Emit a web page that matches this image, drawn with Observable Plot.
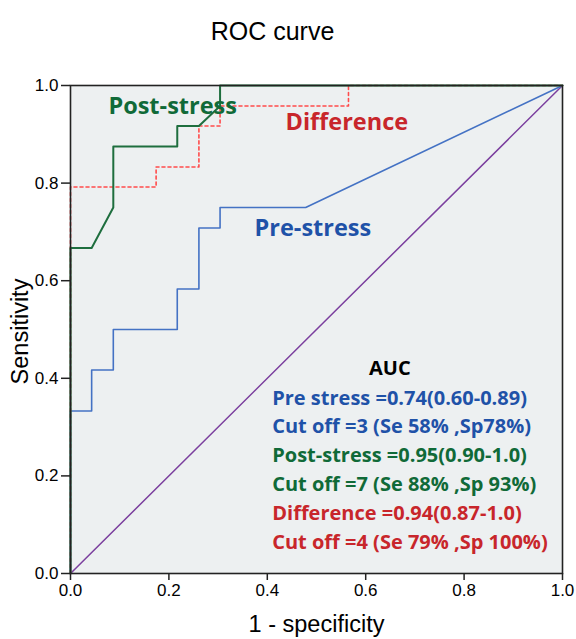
<!DOCTYPE html>
<html>
<head>
<meta charset="utf-8">
<script src="https://cdn.jsdelivr.net/npm/d3@7"></script>
<script src="https://cdn.jsdelivr.net/npm/@observablehq/plot@0.6"></script>
<style>
  body { margin: 0; background: #fff; }
  svg { display: block; }
</style>
</head>
<body>
<div id="chart"></div>
<script>
// --- Data ---
const preX  = [0, 0, 0.043, 0.043, 0.087, 0.087, 0.217, 0.217, 0.261, 0.261, 0.304, 0.304, 0.478, 1.0];
const preY  = [0, 0.333, 0.333, 0.417, 0.417, 0.5, 0.5, 0.583, 0.583, 0.708, 0.708, 0.75, 0.75, 1.0];

const postX = [0, 0, 0.043, 0.087, 0.087, 0.217, 0.217, 0.261, 0.304, 0.304, 1.0];
const postY = [0, 0.667, 0.667, 0.75, 0.875, 0.875, 0.917, 0.917, 0.958, 1.0, 1.0];

const diffX = [0, 0, 0.174, 0.174, 0.261, 0.261, 0.304, 0.304, 0.565, 0.565, 1.0];
const diffY = [0, 0.792, 0.792, 0.833, 0.833, 0.917, 0.917, 0.958, 0.958, 1.0, 1.0];

const refX = [0, 1];
const refY = [0, 1];

const tickValues = [0, 0.2, 0.4, 0.6, 0.8, 1.0];

const aucTitle = "AUC";
const aucLines = [
  "Pre stress =0.74(0.60-0.89)",
  "Cut off =3 (Se 58% ,Sp78%)",
  "Post-stress =0.95(0.90-1.0)",
  "Cut off =7 (Se 88% ,Sp 93%)",
  "Difference =0.94(0.87-1.0)",
  "Cut off =4 (Se 79% ,Sp 100%)"
];
const aucGroups = ["pre", "pre", "post", "post", "diff", "diff"];

const colors = {
  preLine: "#4472C4", preText: "#1F52A8",
  postLine: "#1E6E3E", postText: "#106A38",
  diffLine: "#FF4B4B", diffText: "#C8262B",
  ref: "#7B3F9E"
};
const textColor = {pre: colors.preText, post: colors.postText, diff: colors.diffText};

const toPts = (xs, ys) => xs.map((x, i) => ({x, y: ys[i]}));
const pre = toPts(preX, preY);
const post = toPts(postX, postY);
const diff = toPts(diffX, diffY);
const ref = toPts(refX, refY);

const aucRows = aucLines.map((t, i) => ({t, g: aucGroups[i], i}));
const aucYs = [0.359, 0.301, 0.242, 0.182, 0.123, 0.063];

const sans = "'Liberation Sans', Arial, sans-serif";
const boldFont = "'Open Sans', 'Noto Sans', sans-serif";

const chart = Plot.plot({
  width: 576,
  height: 639,
  marginTop: 85,
  marginLeft: 70,
  marginRight: 14,
  marginBottom: 66,
  style: {fontFamily: sans, color: "#000", background: "#fff"},
  x: {domain: [0, 1]},
  y: {domain: [0, 1]},
  marks: [
    Plot.frame({fill: "#EDF0F1", stroke: null}),
    Plot.line(ref, {x: "x", y: "y", stroke: colors.ref, strokeWidth: 1.5}),
    Plot.line(pre, {x: "x", y: "y", stroke: colors.preLine, strokeWidth: 1.6}),
    Plot.line(diff, {x: "x", y: "y", stroke: colors.diffLine, strokeWidth: 1.6, strokeDasharray: "3,3"}),
    Plot.line(post, {x: "x", y: "y", stroke: colors.postLine, strokeWidth: 2}),
    Plot.frame({stroke: "#222", strokeWidth: 1.6}),
    Plot.axisX({ticks: tickValues, tickFormat: d3.format(".1f"), tickSize: 7, tickPadding: 3, fontSize: 17, label: null, stroke: "#222", strokeWidth: 1.5}),
    Plot.axisY({ticks: tickValues, tickFormat: d3.format(".1f"), tickSize: 9, tickPadding: 3, fontSize: 17, label: null, stroke: "#222", strokeWidth: 1.5}),
    // titles
    Plot.text(["ROC curve"], {frameAnchor: "top", dx: -44, dy: -63, fontSize: 25, fontFamily: sans, fill: "#000"}),
    Plot.text(["1 - specificity"], {frameAnchor: "bottom", dy: 58, fontSize: 23.5, fontFamily: sans, fill: "#000"}),
    Plot.text(["Sensitivity"], {frameAnchor: "left", dx: -50, dy: 2, rotate: -90, textAnchor: "middle", fontSize: 23.5, fontFamily: sans, fill: "#000"}),
    // curve labels
    Plot.text(["Post-stress"], {x: 0.077, y: 0.957, textAnchor: "start", fontSize: 23.5, fontWeight: "bold", fontFamily: boldFont, fill: colors.postText}),
    Plot.text(["Difference"], {x: 0.437, y: 0.924, textAnchor: "start", fontSize: 23.5, fontWeight: "bold", fontFamily: boldFont, fill: colors.diffText}),
    Plot.text(["Pre-stress"], {x: 0.374, y: 0.707, textAnchor: "start", fontSize: 23.5, fontWeight: "bold", fontFamily: boldFont, fill: colors.preText}),
    // AUC box
    Plot.text([aucTitle], {x: 0.649, y: 0.42, fontSize: 20, fontWeight: "bold", fontFamily: boldFont, fill: "#000"}),
    Plot.text(aucRows, {x: () => 0.41, y: d => aucYs[d.i], text: "t", textAnchor: "start", fontSize: 20, fontWeight: "bold", fontFamily: boldFont, fill: d => textColor[d.g]})
  ]
});
document.getElementById("chart").appendChild(chart);
</script>
</body>
</html>
